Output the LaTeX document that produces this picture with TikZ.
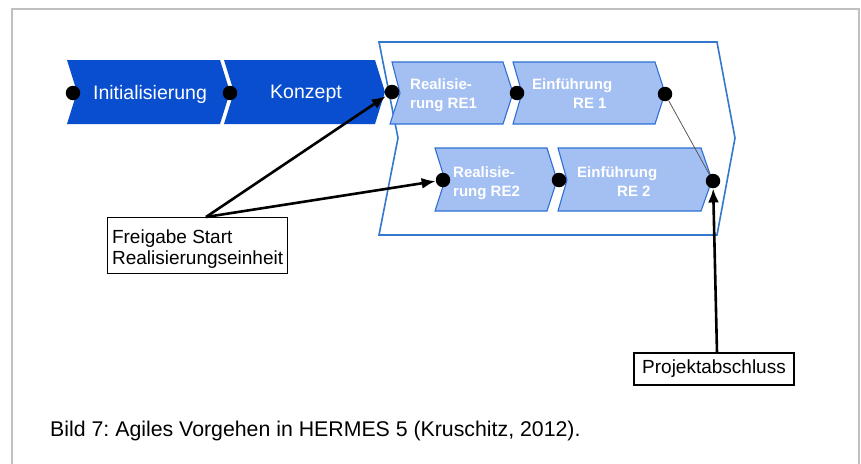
\documentclass[tikz,border=0pt]{standalone}
\usepackage{fontspec}
\setmainfont{Liberation Sans}
\usetikzlibrary{arrows.meta}
\frenchspacing
\definecolor{phasedark}{RGB}{8,78,206}
\definecolor{phaselight}{RGB}{164,192,242}
\definecolor{phaseedge}{RGB}{45,112,210}
\definecolor{groupedge}{RGB}{50,120,205}
\definecolor{framegray}{RGB}{192,192,192}
\begin{document}
\begin{tikzpicture}[x=1pt,y=-1pt,
  darkphase/.style={fill=phasedark, draw=none},
  lightphase/.style={fill=phaselight, draw=phaseedge, line width=1.1pt, line join=miter},
  groupline/.style={draw=groupedge, line width=1.6pt, line join=miter},
  milestone/.style={circle, fill=black, inner sep=0pt, minimum size=14.5pt},
  darklabel/.style={text=white, font=\fontsize{19.5}{22}\selectfont},
  lightlabel/.style={text=white, font=\fontsize{15}{19}\selectfont\bfseries, align=left, anchor=base west, inner sep=0pt},
  callout/.style={draw=black, line width=1.1pt, fill=white, font=\fontsize{19}{21}\selectfont},
  pointer/.style={draw=black, line width=2.6pt, -{Latex[length=14pt,width=11pt]}},
  link/.style={draw=black!65, line width=0.8pt},
]
\useasboundingbox (0,0) rectangle (861,463);
\fill[white] (0,0) rectangle (861,463);
% page frame
\draw[framegray, line width=2pt] (12,470) -- (12,9) -- (859,9) -- (859,470);

% phases before the agile part
\path[darkphase] (67,60) -- (220,60) -- (230,92) -- (220,124) -- (67,124) -- (77,92) -- cycle;
\path[darkphase] (224,60) -- (375,60) -- (385,92) -- (375,124) -- (224,124) -- (234,92) -- cycle;

% group of realisation units
\path[groupline] (379,42) -- (717,42) -- (735,138) -- (717,235) -- (379,235) -- (398,138) -- cycle;

% realisation unit 1
\path[lightphase] (392,62) -- (503,62) -- (513,93) -- (503,124) -- (390,124) -- (400,93) -- cycle;
\path[lightphase] (513,62) -- (655,62) -- (665,93) -- (655,124) -- (513,124) -- (522,93) -- cycle;
% realisation unit 2
\path[lightphase] (435,148) -- (547,148) -- (557,180) -- (547,211) -- (435,211) -- (445,180) -- cycle;
\path[lightphase] (558,148) -- (701,148) -- (712,180) -- (701,211) -- (558,211) -- (567,180) -- cycle;

% phase labels (base anchor sits on the last line)
\node[darklabel] (init) at (150,94) {Initialisierung};
\node[darklabel] (konz) at (306,94) {Konzept};
\node[lightlabel] (re1) at (410,108) {Realisie-\\rung RE1};
\node[lightlabel] (ein1) at (532,108) {Einführung\\\hspace*{41pt}RE 1};
\node[lightlabel] (re2) at (453,196) {Realisie-\\rung RE2};
\node[lightlabel] (ein2) at (577,196) {Einführung\\\hspace*{40pt}RE 2};

% milestones
\node[milestone] (m1) at (73,93) {};
\node[milestone] (m2) at (230,93) {};
\node[milestone] (m3) at (392,92) {};
\node[milestone] (m4) at (517,93) {};
\node[milestone] (m5) at (665,94) {};
\node[milestone] (m6) at (443,180) {};
\node[milestone] (m7) at (559,180) {};
\node[milestone] (m8) at (713,181) {};
\draw[link] (m5) -- (m8);

% callouts
\node[callout, anchor=north west, align=left, inner xsep=4.5pt, inner ysep=5pt] (freigabe) at (107,217)
  {\rule{0pt}{20.7pt}Freigabe Start\\Realisierungseinheit};
\node[callout, minimum width=160pt, minimum height=32pt, inner sep=0pt] (abschluss) at (714,369) {Projektabschluss};
\coordinate (fsrc) at (206,217);
\coordinate (asrc) at (717,353);
\draw[pointer] (fsrc) -- (m3);
\draw[pointer] (fsrc) -- (m6);
\draw[pointer] (asrc) -- (m8);

% caption
\node[anchor=base west, inner sep=0pt, font=\fontsize{21.3}{25}\selectfont] (caption) at (50,436)
  {Bild 7: Agiles Vorgehen in HERMES 5 (Kruschitz, 2012).};
\end{tikzpicture}
\end{document}
